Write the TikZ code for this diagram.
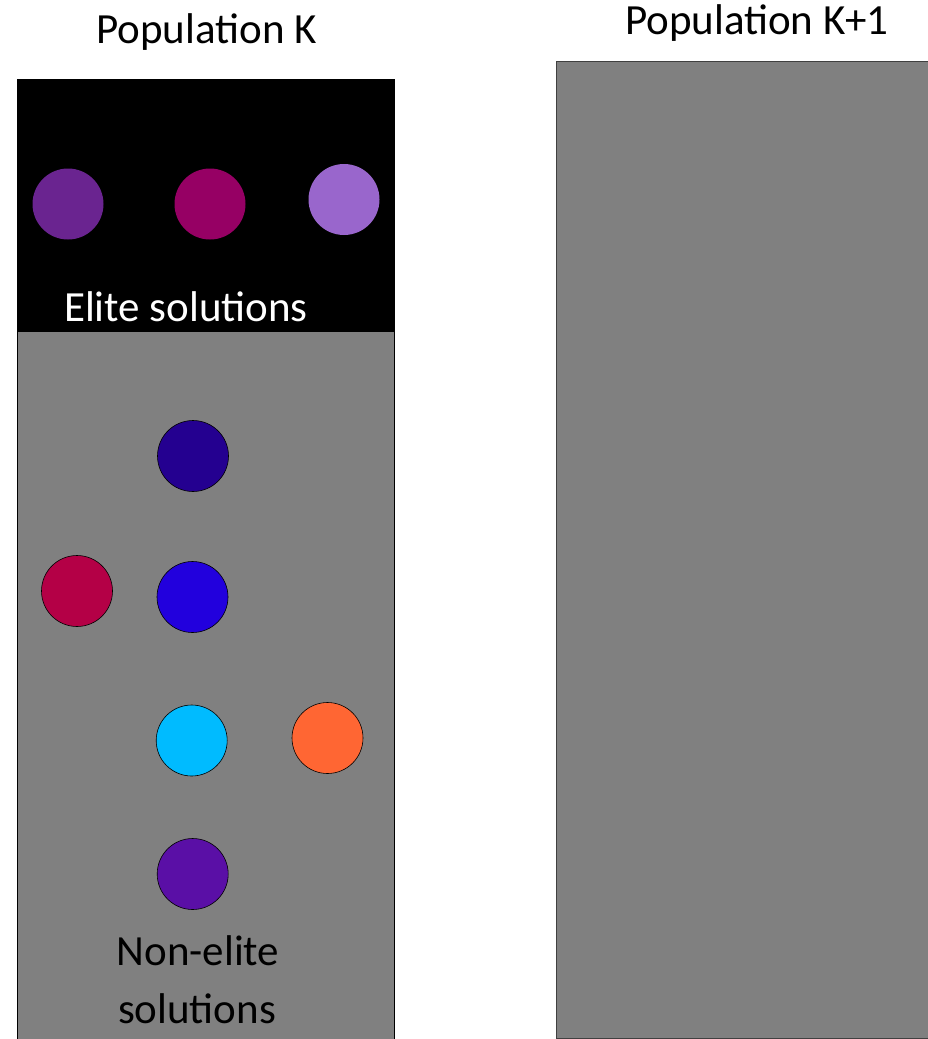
\documentclass[tikz,border=0pt]{standalone}
\usepackage{fontspec}
\setmainfont{Carlito}
\definecolor{eA}{HTML}{6A2490}
\definecolor{eB}{HTML}{960064}
\definecolor{eC}{HTML}{9966CC}
\definecolor{nA}{HTML}{240090}
\definecolor{nB}{HTML}{B40046}
\definecolor{nC}{HTML}{2200DD}
\definecolor{nD}{HTML}{00BBFF}
\definecolor{nE}{HTML}{FF6633}
\definecolor{nF}{HTML}{5A0FA6}
\definecolor{boxgray}{HTML}{808080}
\definecolor{edgegray}{HTML}{404040}
\tikzset{
  lbl/.style={font=\fontsize{43}{56}\selectfont, inner sep=0pt, anchor=base},
  sol/.style={circle, minimum size=71pt, inner sep=0pt},
  nsol/.style={sol, draw=black, line width=0.6pt},
}
\begin{document}
\begin{tikzpicture}[x=1pt,y=-1pt]
\useasboundingbox (0,0) rectangle (927,1039);
\fill[white] (0,0) rectangle (927,1039);
% population K+1
\draw[fill=boxgray, draw=edgegray, line width=1pt] (556,61) rectangle (940,1038);
% population K
\draw[fill=boxgray, draw=black, line width=1pt] (17,79) rectangle (394,1042);
\fill[black] (17,79) rectangle (394,332);
% titles
\node[lbl] (tK) at (206.5,43) {Population K};
\node[lbl] (tK1) at (757,34) {Population K+1};
\node[lbl, text=white] (elite) at (186,321) {Elite solutions};
\node[lbl] (nonelite) at (198,965) {Non-elite};
\node[lbl] (nonelite2) at (197,1023) {solutions};
% elite solutions
\node[sol, fill=eA] (e1) at (68,204) {};
\node[sol, fill=eB] (e2) at (210,204) {};
\node[sol, fill=eC] (e3) at (344,199.5) {};
% non-elite solutions
\node[nsol, fill=nA] (n1) at (193,456) {};
\node[nsol, fill=nB] (n2) at (77,591) {};
\node[nsol, fill=nC] (n3) at (192.5,597) {};
\node[nsol, fill=nD] (n4) at (191.7,740.5) {};
\node[nsol, fill=nE] (n5) at (327.5,738) {};
\node[nsol, fill=nF] (n6) at (192.7,874) {};
\end{tikzpicture}
\end{document}
